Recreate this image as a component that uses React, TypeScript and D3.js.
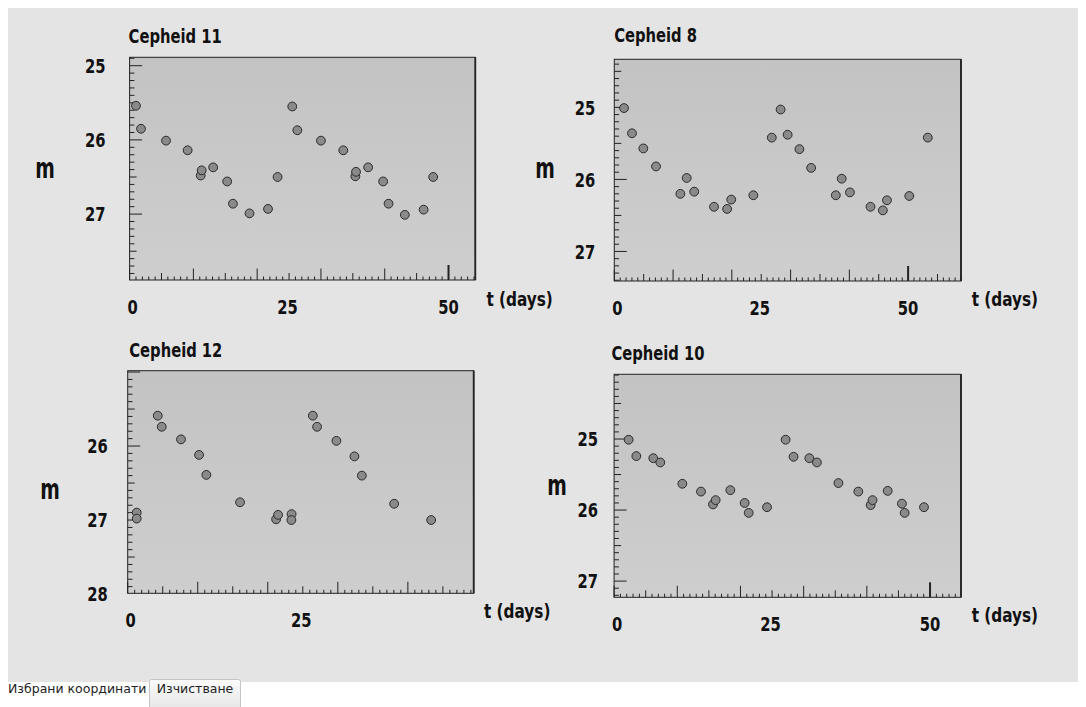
import React from "react";
import * as d3 from "d3";

// ---- data: [t (days), m] ----
const cepheid11: [number, number][] = [
  [1.0, 25.54], [1.79, 25.85], [5.71, 26.01], [9.1, 26.14], [11.15, 26.48], [11.3, 26.41],
  [13.1, 26.37], [15.3, 26.56], [16.2, 26.86], [18.8, 26.99], [21.7, 26.93], [23.2, 26.5],
  [25.5, 25.55], [26.3, 25.87], [30.0, 26.01], [33.5, 26.14], [35.4, 26.49], [35.5, 26.43],
  [37.4, 26.37], [39.75, 26.56], [40.6, 26.86], [43.15, 27.01], [46.1, 26.94], [47.6, 26.5],
];
const cepheid8: [number, number][] = [
  [1.65, 25.01], [3.01, 25.36], [4.94, 25.57], [7.1, 25.82], [11.24, 26.2], [12.32, 25.98],
  [13.6, 26.17], [16.97, 26.38], [19.2, 26.41], [19.9, 26.28], [23.66, 26.22], [26.8, 25.42],
  [28.3, 25.03], [29.5, 25.38], [31.5, 25.58], [33.5, 25.84], [37.7, 26.22], [38.7, 25.99],
  [40.1, 26.18], [43.6, 26.38], [45.7, 26.43], [46.4, 26.29], [50.2, 26.23], [53.35, 25.42],
];
const cepheid12: [number, number][] = [
  [1.29, 26.9], [1.29, 26.98], [4.29, 25.59], [4.86, 25.74], [7.61, 25.91], [10.19, 26.12],
  [11.23, 26.39], [16.04, 26.76], [21.19, 26.99], [21.47, 26.93], [23.4, 26.92], [23.37, 27.0],
  [26.43, 25.59], [27.04, 25.74], [29.8, 25.93], [32.37, 26.14], [33.43, 26.4], [38.04, 26.78],
  [43.33, 27.0],
];
const cepheid10: [number, number][] = [
  [2.3, 25.01], [3.52, 25.24], [6.2, 25.27], [7.31, 25.33], [10.8, 25.63], [13.75, 25.74],
  [15.65, 25.92], [16.07, 25.86], [18.4, 25.72], [20.66, 25.9], [21.3, 26.04], [24.2, 25.96],
  [27.15, 25.01], [28.4, 25.25], [30.9, 25.27], [32.1, 25.33], [35.5, 25.62], [38.65, 25.74],
  [40.6, 25.93], [40.9, 25.86], [43.3, 25.73], [45.55, 25.91], [45.98, 26.04], [49.04, 25.96],
];

// ---- tick labels ----
const yLabels11 = [25, 26, 27];
const yLabels8 = [25, 26, 27];
const yLabels12 = [26, 27, 28];
const yLabels10 = [25, 26, 27];
const xLabelsFull = [0, 25, 50];
const xLabelsShort = [0, 25];

const titles = ["Cepheid 11", "Cepheid 8", "Cepheid 12", "Cepheid 10"];
const yAxisLabel = "m";
const xAxisLabel = "t (days)";
const selectedLabel = "Избрани координати";
const clearLabel = "Изчистване";

const FONT = "'DejaVu Sans Condensed', 'DejaVu Sans', sans-serif";
const SX = 0.82;

type Panel = {
  title: string;
  data: [number, number][];
  x0: number; x1: number; y0: number; y1: number;
  xDom: [number, number]; yDom: [number, number];
  yLabels: number[]; xLabels: number[];
  gap: number; mX: number; mY: number; titleX: number; titleY: number;
  tX: number; tY: number;
};

const panels: Panel[] = [
  { title: titles[0], data: cepheid11, x0: 129.6, x1: 475.3, y0: 57.3, y1: 280,
    xDom: [0, 54.2], yDom: [24.887, 27.888], yLabels: yLabels11, xLabels: xLabelsFull,
    gap: 24, mX: 45, mY: 170, titleX: 128.6, titleY: 43, tX: 486.4, tY: 306 },
  { title: titles[1], data: cepheid8, x0: 614.3, x1: 961, y0: 59.3, y1: 281,
    xDom: [0, 59.0], yDom: [24.333, 27.41], yLabels: yLabels8, xLabels: xLabelsFull,
    gap: 19, mX: 545, mY: 170, titleX: 614.2, titleY: 42, tX: 971.7, tY: 306 },
  { title: titles[2], data: cepheid12, x0: 127.7, x1: 473.7, y0: 370.7, y1: 593.3,
    xDom: [0, 49.4], yDom: [24.982, 27.99], yLabels: yLabels12, xLabels: xLabelsShort,
    gap: 20, mX: 50, mY: 491, titleX: 129.3, titleY: 357, tX: 484, tY: 618 },
  { title: titles[3], data: cepheid10, x0: 614.1, x1: 961, y0: 374.3, y1: 597.3,
    xDom: [0, 54.9], yDom: [24.089, 27.228], yLabels: yLabels10, xLabels: xLabelsFull,
    gap: 16, mX: 557, mY: 487, titleX: 611.4, titleY: 360, tX: 971.7, tY: 622 },
];

function SText({ x, y, anchor = "start", size = 20, sx = SX, weight = "bold", dy, children }: any) {
  return (
    <text
      transform={`translate(${x},${y}) scale(${sx},1)`}
      textAnchor={anchor}
      dy={dy}
      fontFamily={FONT}
      fontWeight={weight}
      fontSize={size}
      fill="#111"
    >
      {children}
    </text>
  );
}

function PanelView({ p, idx }: { p: Panel; idx: number }) {
  const x = d3.scaleLinear().domain(p.xDom).range([p.x0, p.x1]);
  const y = d3.scaleLinear().domain(p.yDom).range([p.y0, p.y1]);
  const xTicks = d3.range(0, Math.floor(p.xDom[1]) + 1, 1);
  const yTicks = d3.range(Math.ceil(p.yDom[0] * 10 - 1e-6), Math.floor(p.yDom[1] * 10 + 1e-6) + 1, 1);
  const gid = `bg${idx}`;
  return (
    <g>
      <defs>
        <linearGradient id={gid} x1="0" y1="0" x2="0" y2="1">
          <stop offset="0" stopColor="#c3c3c3" />
          <stop offset="1" stopColor="#cecece" />
        </linearGradient>
      </defs>
      <rect x={p.x0} y={p.y0} width={p.x1 - p.x0} height={p.y1 - p.y0} fill={`url(#${gid})`} stroke="#222" strokeWidth={1} />
      <line x1={p.x1} x2={p.x1} y1={p.y0} y2={p.y1} stroke="#222" strokeWidth={1.8} />
      {xTicks.map((t) => {
        const len = t === 50 ? 15 : t % 10 === 0 ? 11.5 : t % 5 === 0 ? 7 : 3.5;
        return (
          <line key={`xt${t}`} x1={x(t)} x2={x(t)} y1={p.y1} y2={p.y1 - len} stroke="#222" strokeWidth={t === 50 ? 2 : 1} />
        );
      })}
      {yTicks.map((k) => {
        const len = k % 10 === 0 ? 12.5 : k % 5 === 0 ? 7 : 4.8;
        return <line key={`yt${k}`} x1={p.x0} x2={p.x0 + len} y1={y(k / 10)} y2={y(k / 10)} stroke="#222" strokeWidth={1} />;
      })}
      {p.data.map(([t, m], i) => (
        <circle key={i} cx={x(t)} cy={y(m)} r={4.4} fill="#8a8a8a" stroke="#2a2a2a" strokeWidth={1} />
      ))}
      {p.yLabels.map((v) => (
        <SText key={`yl${v}`} x={p.x0 - p.gap} y={y(v)} dy="0.36em" anchor="end">
          {v}
        </SText>
      ))}
      {p.xLabels.map((v) => (
        <SText key={`xl${v}`} x={x(v) + (v === 0 ? 3 : v === 25 ? -1.5 : 0)} y={p.y1 + 26.5} dy="0.36em" anchor="middle">
          {v}
        </SText>
      ))}
      <SText x={p.titleX} y={p.titleY}>{p.title}</SText>
      <SText x={p.mX} y={p.mY} dy="0.28em" anchor="middle" size={29} sx={0.72}>
        {yAxisLabel}
      </SText>
      <SText x={p.tX} y={p.tY} size={20} sx={0.85}>{xAxisLabel}</SText>
    </g>
  );
}

export default function App() {
  return (
    <svg
      width={1086}
      height={707}
      style={{ position: "absolute", left: 0, top: 0, background: "#fff" }}
    >
      <defs>
        <linearGradient id="btn" x1="0" y1="0" x2="0" y2="1">
          <stop offset="0" stopColor="#fbfbfb" />
          <stop offset="1" stopColor="#e6e6e6" />
        </linearGradient>
      </defs>
      <rect x={8} y={8} width={1070} height={674} fill="#e4e4e4" />
      {panels.map((p, i) => (
        <PanelView key={i} p={p} idx={i} />
      ))}
      <text x={8} y={693} fontFamily="'DejaVu Sans', sans-serif" fontSize={12.5} fill="#222">
        {selectedLabel}
      </text>
      <rect x={149.5} y={679.5} width={91} height={30} rx={2} fill="url(#btn)" stroke="#c4c4c4" />
      <text x={195} y={693} textAnchor="middle" fontFamily="'DejaVu Sans', sans-serif" fontSize={12.5} fill="#222">
        {clearLabel}
      </text>
    </svg>
  );
}
